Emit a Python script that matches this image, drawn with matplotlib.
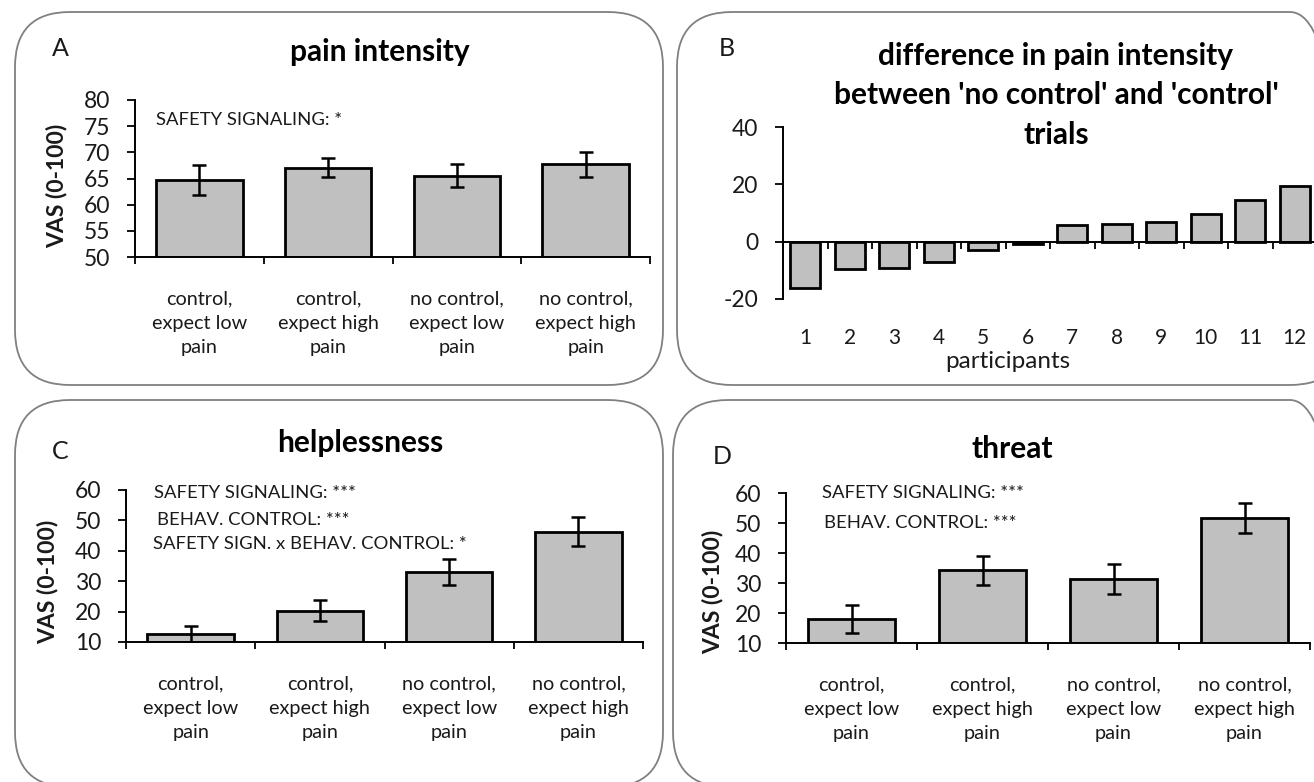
import numpy as np
import matplotlib.pyplot as plt
from matplotlib.patches import FancyBboxPatch
from matplotlib.transforms import blended_transform_factory

plt.rcParams['font.family'] = ['Lato', 'DejaVu Sans']
plt.rcParams['axes.unicode_minus'] = False

W, H = 1314, 782

# data
conditions = ['control,\nexpect low\npain', 'control,\nexpect high\npain',
              'no control,\nexpect low\npain', 'no control,\nexpect high\npain']
pain_mean = [64.7, 67.1, 65.5, 67.7]
pain_err = [2.9, 1.9, 2.2, 2.4]
help_mean = [12.7, 20.3, 33.1, 46.3]
help_err = [2.6, 3.4, 4.2, 4.7]
threat_mean = [18.1, 34.2, 31.4, 51.7]
threat_err = [4.6, 4.9, 5.0, 5.0]
participants = [str(i) for i in range(1, 13)]
pain_diff = [-16.0, -9.7, -9.3, -7.0, -2.8, -0.8, 5.8, 6.3, 6.9, 9.7, 14.4, 19.5]

BAR = '#c0c0c0'
TXT = '#1a1a1a'
TICK_FS = 16.5
CAT_FS = 14.3
NOTE_FS = 13.3
TITLE_FS = 21.5
LET_FS = 18


def px_axes(fig, x0, y0, x1, y1):
    # pixel box (top-left origin) -> figure axes
    return fig.add_axes([x0 / W, 1 - y1 / H, (x1 - x0) / W, (y1 - y0) / H])


def ftext(fig, x, y, s, **kw):
    fig.text(x / W, 1 - y / H, s, **kw)


def rounded_box(fig, x0, y0, x1, y1, r=55):
    p = FancyBboxPatch((x0 / 100, (H - y1) / 100), (x1 - x0) / 100, (y1 - y0) / 100,
                       boxstyle='round,pad=0,rounding_size=%f' % (r / 100),
                       transform=fig.dpi_scale_trans, facecolor='none',
                       edgecolor='#808080', linewidth=1.3)
    fig.patches.append(p)


def bar_panel(ax, means, errs, ylo, yhi, step):
    x = np.arange(len(means))
    ax.bar(x, np.array(means) - ylo, bottom=ylo, width=0.67, color=BAR,
           edgecolor='black', linewidth=2)
    ax.errorbar(x, means, yerr=errs, fmt='none', ecolor='black',
                elinewidth=1.8, capsize=5, capthick=1.8)
    ax.set_xlim(-0.5, len(means) - 0.5)
    ax.set_ylim(ylo, yhi)
    ax.set_yticks(np.arange(ylo, yhi + 0.1, step))
    ax.set_xticks(x)
    ax.set_xticklabels(conditions, fontsize=CAT_FS, color=TXT, linespacing=1.52)
    ax.tick_params(axis='x', which='major', length=0, pad=24)
    ax.set_xticks(np.arange(-0.5, len(means)), minor=True)
    ax.tick_params(axis='x', which='minor', length=5, width=1.3, direction='out')
    ax.tick_params(axis='y', length=6, width=1.3, labelsize=TICK_FS, pad=12,
                   labelcolor=TXT)
    for s in ['top', 'right']:
        ax.spines[s].set_visible(False)
    for s in ['left', 'bottom']:
        ax.spines[s].set_linewidth(1.4)
    ax.patch.set_alpha(0)


def vas_label(fig, x, y):
    ftext(fig, x, y, 'VAS (0-100)', fontsize=16.5, fontweight='bold',
          rotation=90, ha='center', va='center', color=TXT)


fig = plt.figure(figsize=(W / 100, H / 100), dpi=100)

rounded_box(fig, 15, 12, 663, 385)
rounded_box(fig, 677, 12, 1345, 385)
rounded_box(fig, 15, 400, 663, 787)
rounded_box(fig, 673, 400, 1345, 787)

# A: pain intensity
axA = px_axes(fig, 135, 100, 650, 257)
bar_panel(axA, pain_mean, pain_err, 50, 80, 5)
axA.text(0.04, 0.87, 'SAFETY SIGNALING: *', transform=axA.transAxes,
         fontsize=NOTE_FS, color=TXT, va='center')
vas_label(fig, 57, 186)
ftext(fig, 60, 48, 'A', fontsize=LET_FS, va='center', ha='center', color=TXT)
ftext(fig, 380, 52, 'pain intensity', fontsize=TITLE_FS, fontweight='bold',
      va='center', ha='center')

# B: difference per participant
axB = px_axes(fig, 783, 127, 1317, 299)
xb = np.arange(len(pain_diff))
axB.bar(xb, pain_diff, width=0.68, color=BAR, edgecolor='black', linewidth=2)
axB.set_xlim(-0.5, len(pain_diff) - 0.5)
axB.set_ylim(-20, 40)
axB.set_yticks([-20, 0, 20, 40])
axB.tick_params(axis='y', length=6, width=1.3, labelsize=TICK_FS, pad=12,
                labelcolor=TXT)
axB.spines['bottom'].set_position(('data', 0))
for s in ['top', 'right']:
    axB.spines[s].set_visible(False)
for s in ['left', 'bottom']:
    axB.spines[s].set_linewidth(1.4)
axB.set_xticks(np.arange(-0.5, len(pain_diff)))
axB.set_xticklabels([])
axB.tick_params(axis='x', length=5, width=1.3, direction='out')
trB = blended_transform_factory(axB.transData, axB.transAxes)
for i, lab in enumerate(participants):
    axB.text(i, -0.227, lab, transform=trB, ha='center', va='center',
             fontsize=15, color=TXT)
ftext(fig, 1008, 362, 'participants', fontsize=17.5, ha='center', va='center',
      color=TXT)
axB.patch.set_alpha(0)
ftext(fig, 727, 48, 'B', fontsize=LET_FS, va='center', ha='center', color=TXT)
ftext(fig, 1056, 95, "difference in pain intensity\nbetween 'no control' and 'control'\ntrials",
      fontsize=TITLE_FS, fontweight='bold', va='center', ha='center', linespacing=1.5)

# C: helplessness
axC = px_axes(fig, 126, 490, 643, 642)
bar_panel(axC, help_mean, help_err, 10, 60, 10)
axC.text(0.055, 0.98, 'SAFETY SIGNALING: ***', transform=axC.transAxes,
         fontsize=NOTE_FS, color=TXT, va='center')
axC.text(0.06, 0.80, 'BEHAV. CONTROL: ***', transform=axC.transAxes,
         fontsize=NOTE_FS, color=TXT, va='center')
axC.text(0.053, 0.645, 'SAFETY SIGN. x BEHAV. CONTROL: *', transform=axC.transAxes,
         fontsize=NOTE_FS, color=TXT, va='center')
vas_label(fig, 48, 582)
ftext(fig, 60, 452, 'C', fontsize=LET_FS, va='center', ha='center', color=TXT)
ftext(fig, 360, 443, 'helplessness', fontsize=TITLE_FS, fontweight='bold',
      va='center', ha='center')

# D: threat
axD = px_axes(fig, 786, 493, 1310, 643)
bar_panel(axD, threat_mean, threat_err, 10, 60, 10)
axD.text(0.068, 1.0, 'SAFETY SIGNALING: ***', transform=axD.transAxes,
         fontsize=NOTE_FS, color=TXT, va='center')
axD.text(0.072, 0.80, 'BEHAV. CONTROL: ***', transform=axD.transAxes,
         fontsize=NOTE_FS, color=TXT, va='center')
vas_label(fig, 713, 592)
ftext(fig, 722, 457, 'D', fontsize=LET_FS, va='center', ha='center', color=TXT)
ftext(fig, 1012, 449, 'threat', fontsize=TITLE_FS, fontweight='bold',
      va='center', ha='center')

fig.savefig('out.png', dpi=100)
